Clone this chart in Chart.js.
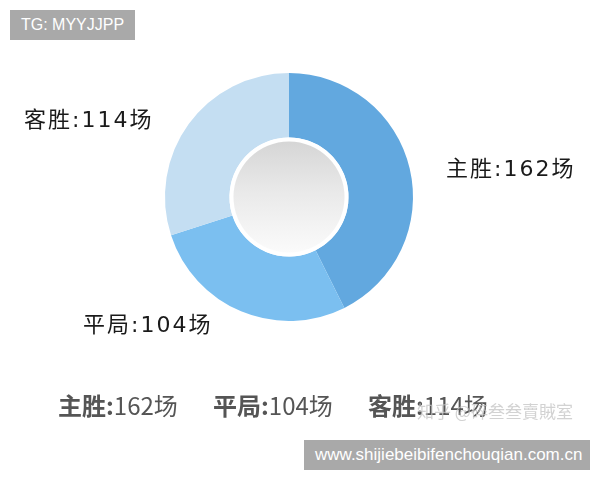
<!DOCTYPE html>
<html>
<head>
<meta charset="utf-8">
<script src="https://cdn.jsdelivr.net/npm/chart.js@4/dist/chart.umd.min.js"></script>
<style>
  body { margin: 0; background: #fff; }
  #wrap { position: relative; width: 600px; height: 480px; overflow: hidden; }
  canvas { position: absolute; left: 0; top: 0; }
  .tag { position: absolute; background: #a9a9a9; color: #fff; font-family: "Liberation Sans", Arial, sans-serif; height: 30px; line-height: 30px; padding: 0 11px; white-space: nowrap; }
  #legend { position: absolute; left: 58px; top: 389px; font-family: "Noto Sans CJK SC", sans-serif; font-size: 24px; line-height: 32px; color: #555; white-space: nowrap; }
  #legend span { display: inline-block; width: 155px; }
  #legend b { font-weight: bold; }
  #mark { position: absolute; left: 417px; top: 398px; font-family: "Noto Sans CJK SC", sans-serif; font-size: 17px; color: rgba(195,195,195,0.75); white-space: nowrap; }
</style>
</head>
<body>
<div id="wrap">
  <canvas id="chart" width="600" height="480"></canvas>
  <div class="tag" style="left:10px; top:10px; font-size:16px;">TG: MYYJJPP</div>
  <div class="tag" style="left:304px; top:440px; width:264px; font-size:17px;">www.shijiebeibifenchouqian.com.cn</div>
  <div id="legend"></div>
  <div id="mark">知乎 @碎叁叁賣賊室</div>
</div>
<script>
document.addEventListener('DOMContentLoaded', function () {
    const labels = ['主胜', '平局', '客胜'];
    const games = [162, 104, 114];
    const colors = ['#62a8df', '#7bbff0', '#c4def2'];
    // where each outside label starts (x, middle y)
    const labelPos = [[446, 170], [83, 326], [24, 121]];

    const legend = document.getElementById('legend');
    labels.forEach((name, i) => {
        const span = document.createElement('span');
        span.innerHTML = '<b>' + name + ':</b>' + games[i] + '场';
        legend.appendChild(span);
    });

    const centerPlugin = {
        id: 'centerDisc',
        afterDatasetsDraw(chart) {
            const ctx = chart.ctx;
            const arc = chart.getDatasetMeta(0).data[0];
            const cx = arc.x, cy = arc.y;
            const r = arc.innerRadius;
            ctx.save();
            ctx.beginPath();
            ctx.arc(cx, cy, r, 0, Math.PI * 2);
            ctx.fillStyle = '#ffffff';
            ctx.fill();
            const g = ctx.createLinearGradient(cx, cy - r, cx, cy + r);
            g.addColorStop(0, '#d4d4d4');
            g.addColorStop(0.45, '#e9e9e9');
            g.addColorStop(1, '#fcfcfc');
            ctx.beginPath();
            ctx.arc(cx, cy, r - 4, 0, Math.PI * 2);
            ctx.fillStyle = g;
            ctx.fill();

            ctx.font = '22px "DejaVu Sans", "Noto Sans CJK SC", sans-serif';
            ctx.letterSpacing = '2px';
            ctx.fillStyle = '#1a1a1a';
            ctx.textBaseline = 'middle';
            ctx.textAlign = 'left';
            labels.forEach((name, i) => {
                ctx.fillText(name + ':' + games[i] + '场', labelPos[i][0], labelPos[i][1]);
            });
            ctx.restore();
        }
    };

    new Chart(document.getElementById('chart').getContext('2d'), {
        type: 'doughnut',
        data: {
            labels: labels,
            datasets: [{
                data: games,
                backgroundColor: colors,
                borderWidth: 0
            }]
        },
        options: {
            responsive: false,
            animation: false,
            cutout: '48%',
            layout: { padding: { left: 165, right: 187, top: 73, bottom: 159 } },
            plugins: {
                legend: { display: false },
                tooltip: { enabled: false }
            }
        },
        plugins: [centerPlugin]
    });
});
</script>
</body>
</html>
